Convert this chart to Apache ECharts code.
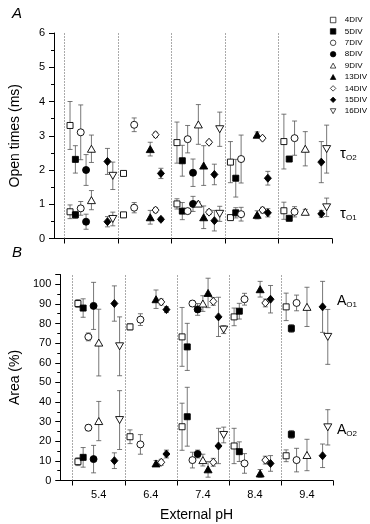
<!DOCTYPE html>
<html>
<head>
<meta charset="utf-8">
<script src="https://cdn.jsdelivr.net/npm/echarts@6/dist/echarts.min.js"></script>
<style>
  html, body { margin: 0; padding: 0; background: #fff; }
  #main { width: 370px; height: 524px; }
</style>
</head>
<body>
<div id="main"></div>
<script>
// series (days in vitro) and pH groups
const divNames = ['4DIV', '5DIV', '7DIV', '8DIV', '9DIV', '13DIV', '14DIV', '15DIV', '16DIV'];
const phLabels = ['5.4', '6.4', '7.4', '8.4', '9.4'];

// rows follow divNames, columns follow phLabels; [mean, sd], null = no data
const tauO2 = [
  [[3.3, 0.7], [1.9, 0.06], [2.8, 0.6], [2.23, 0.6], [2.83, 0.8]],
  [[2.31, 0.4], null, [2.27, 0.45], [1.76, 0.55], [2.32, 0.06]],
  [[3.1, 0.8], [3.32, 0.2], [2.9, 0.4], [2.32, 0.7], [2.93, 0.5]],
  [[2.0, 0.45], null, [1.92, 0.4], null, null],
  [[2.62, 0.4], null, [3.33, 0.58], null, [2.62, 0.5]],
  [null, [2.61, 0.2], [2.13, 0.58], [3.03, 0.08], null],
  [null, [3.03, 0.07], [2.81, 0.05], [2.93, 0.05], null],
  [[2.25, 0.38], [1.9, 0.15], [1.87, 0.3], [1.76, 0.2], [2.23, 0.6]],
  [[1.83, 0.4], null, [3.19, 0.5], null, [2.61, 0.7]]
];
const tauO1 = [
  [[0.78, 0.2], [0.69, 0.03], [1.01, 0.15], [0.61, 0.03], [0.81, 0.25]],
  [[0.69, 0.1], null, [0.8, 0.25], [0.75, 0.15], [0.59, 0.04]],
  [[0.88, 0.2], [0.9, 0.15], [0.8, 0.05], [0.71, 0.2], [0.78, 0.15]],
  [[0.49, 0.22], null, [1.01, 0.22], null, null],
  [[1.12, 0.28], null, [1.02, 0.05], null, [0.78, 0.07]],
  [null, [0.62, 0.2], [0.62, 0.33], [0.69, 0.12], null],
  [null, [0.83, 0.07], [0.77, 0.07], [0.83, 0.08], null],
  [[0.49, 0.15], [0.56, 0.05], [0.52, 0.3], [0.75, 0.12], [0.72, 0.1]],
  [[0.57, 0.2], null, [0.72, 0.22], null, [0.91, 0.27]]
];
const areaO1 = [
  [[90.2, 2], [78.3, 1.5], [73.2, 15], [83.4, 4.5], [88.5, 7]],
  [[87.9, 4.7], null, [68.1, 12], [86.3, 4], [77.5, 2]],
  [[73.2, 2], [82, 3], [90.2, 1.5], [92.4, 3], [90.5, 4]],
  [[89, 12], null, [87.2, 3], null, null],
  [[70.3, 17], null, [90.2, 4], null, [88.5, 10]],
  [null, [92.4, 4.7], [95.6, 7.5], [97.5, 4], null],
  [null, [91, 1.5], [91.3, 2], [90.5, 2], null],
  [[90.2, 9], [87.1, 1.5], [83.4, 10], [92.4, 7], [88.5, 13]],
  [[68.4, 15], null, [76.9, 2], null, [73.2, 14]]
];
const areaO2 = [
  [[9.6, 2], [22.3, 3.5], [27.4, 12], [17.6, 9], [12.6, 3]],
  [[11.8, 5], null, [32.5, 15], [14.7, 5], [23.5, 2]],
  [[26.9, 1.5], [18.4, 5], [10.4, 4], [8.7, 5], [10.4, 6]],
  [[10.9, 7], null, [13.5, 2], null, null],
  [[30.3, 10], null, [10.4, 3], null, [13, 8]],
  [null, [8.7, 1.5], [5.7, 4], [3.6, 2], null],
  [null, [9.3, 1.5], [9.3, 2], [10.4, 2], null],
  [[10.1, 4], [13.5, 2], [17.6, 9], [8.7, 4], [12.6, 6]],
  [[30.8, 15], null, [23.2, 4], null, [27.1, 9]]
];

const font = 'Liberation Sans, Arial, sans-serif';
const triUp = 'path://M5,0 L10,9 L0,9 Z';
const triDown = 'path://M0,0 L10,0 L5,9 Z';
const markers = [
  { symbol: 'rect', size: 6, filled: false },
  { symbol: 'rect', size: 6, filled: true },
  { symbol: 'circle', size: 7, filled: false },
  { symbol: 'circle', size: 7, filled: true },
  { symbol: triUp, size: [8, 7], filled: false },
  { symbol: triUp, size: [8, 7], filled: true },
  { symbol: 'diamond', size: [7, 8], filled: false },
  { symbol: 'diamond', size: [7, 8], filled: true },
  { symbol: triDown, size: [8, 7], filled: false }
];

// x position inside a pH group: group boundary + (series index + 1) / 10
const xPos = (g, i) => 5 + g + (i + 1) * 0.1;

function renderErr(params, api) {
  const x = api.value(0), y = api.value(1), e = api.value(2);
  const top = api.coord([x, y + e]);
  const bot = api.coord([x, y - e]);
  const w = 2.5;
  const st = { stroke: '#555', lineWidth: 0.8 };
  return {
    type: 'group',
    children: [
      { type: 'line', shape: { x1: top[0], y1: top[1], x2: bot[0], y2: bot[1] }, style: st },
      { type: 'line', shape: { x1: top[0] - w, y1: top[1], x2: top[0] + w, y2: top[1] }, style: st },
      { type: 'line', shape: { x1: bot[0] - w, y1: bot[1], x2: bot[0] + w, y2: bot[1] }, style: st }
    ]
  };
}

const series = [];
[[tauO1, tauO2], [areaO1, areaO2]].forEach((metrics, p) => {
  const errData = [];
  divNames.forEach((name, i) => {
    const pts = [];
    metrics.forEach(m => {
      m[i].forEach((c, g) => {
        if (c) {
          pts.push([xPos(g, i), c[0]]);
          errData.push([xPos(g, i), c[0], c[1]]);
        }
      });
    });
    const mk = markers[i];
    series.push({
      name: name,
      type: 'scatter',
      xAxisIndex: p,
      yAxisIndex: p,
      symbol: mk.symbol,
      symbolSize: mk.size,
      z: 3,
      itemStyle: {
        color: mk.filled ? '#000' : '#fff',
        borderColor: '#000',
        borderWidth: 0.9,
        opacity: 1
      },
      data: pts
    });
  });
  series.push({
    type: 'custom',
    xAxisIndex: p,
    yAxisIndex: p,
    z: 2,
    renderItem: renderErr,
    encode: { x: 0, y: 1 },
    data: errData,
    markLine: {
      silent: true,
      symbol: 'none',
      label: { show: false },
      lineStyle: { type: [1, 2], color: '#555', width: 1 },
      data: [5, 6, 7, 8, 9].map(v => ({ xAxis: v }))
    }
  });
});

const axisLine = { lineStyle: { color: '#000', width: 1 } };

const option = {
  animation: false,
  backgroundColor: '#fff',
  textStyle: { fontFamily: font },
  grid: [
    { left: 53, width: 279, top: 33, height: 205.5 },
    { left: 53, width: 280, top: 274.5, height: 206 }
  ],
  xAxis: [
    {
      gridIndex: 0, type: 'value', min: 4.8, max: 10,
      axisLine: axisLine,
      axisTick: { length: 5, customValues: [5, 6, 7, 8, 9, 10], lineStyle: { color: '#000' } },
      axisLabel: { show: false },
      splitLine: { show: false }
    },
    {
      gridIndex: 1, type: 'value', min: 4.76, max: 10,
      axisLine: axisLine,
      axisTick: { length: 5, customValues: [5, 6, 7, 8, 9, 10], lineStyle: { color: '#000' } },
      axisLabel: {
        customValues: [5.5, 6.5, 7.5, 8.5, 9.5],
        formatter: v => phLabels[Math.round(v - 5.5)],
        fontSize: 11, color: '#000', margin: 9, fontFamily: font
      },
      splitLine: { show: false },
      name: 'External pH', nameLocation: 'middle', nameGap: 28,
      nameTextStyle: { fontSize: 14, color: '#000', fontFamily: font }
    }
  ],
  yAxis: [
    {
      gridIndex: 0, type: 'value', min: 0, max: 6, interval: 1,
      axisLine: axisLine,
      axisTick: { length: 5, lineStyle: { color: '#000' } },
      minorTick: { show: true, splitNumber: 2, length: 3, lineStyle: { color: '#000' } },
      axisLabel: { fontSize: 11, color: '#000', margin: 9, fontFamily: font },
      splitLine: { show: false },
      name: 'Open times (ms)', nameLocation: 'middle', nameGap: 32,
      nameTextStyle: { fontSize: 14, color: '#000', fontFamily: font }
    },
    {
      gridIndex: 1, type: 'value', min: 0, max: 105, interval: 10,
      axisLine: axisLine,
      axisTick: { length: 5, lineStyle: { color: '#000' } },
      minorTick: { show: true, splitNumber: 2, length: 3, lineStyle: { color: '#000' } },
      axisLabel: { fontSize: 11, color: '#000', margin: 9, showMaxLabel: false, fontFamily: font },
      splitLine: { show: false },
      name: 'Area (%)', nameLocation: 'middle', nameGap: 32,
      nameTextStyle: { fontSize: 14, color: '#000', fontFamily: font }
    }
  ],
  legend: {
    data: divNames,
    orient: 'vertical',
    left: 325,
    top: 11,
    itemWidth: 5.5,
    itemHeight: 5.5,
    itemGap: 3.4,
    itemStyle: { borderWidth: 0.7 },
    textStyle: { fontSize: 8, color: '#000', fontFamily: font, padding: [0, 0, 0, 4] }
  },
  graphic: [
    { type: 'text', left: 12, top: 6, style: { text: 'A', font: 'italic 15px ' + font, fill: '#000' } },
    { type: 'text', left: 12, top: 245, style: { text: 'B', font: 'italic 15px ' + font, fill: '#000' } },
    {
      type: 'text', left: 340, top: 146,
      style: {
        text: '{m|τ}{s|O2}',
        rich: { m: { fontSize: 15, fontFamily: font, fill: '#000' }, s: { fontSize: 8, fontFamily: font, padding: [8, 0, 0, 0] } }
      }
    },
    {
      type: 'text', left: 340, top: 206,
      style: {
        text: '{m|τ}{s|O1}',
        rich: { m: { fontSize: 15, fontFamily: font }, s: { fontSize: 8, fontFamily: font, padding: [8, 0, 0, 0] } }
      }
    },
    {
      type: 'text', left: 337, top: 294,
      style: {
        text: '{m|A}{s|O1}',
        rich: { m: { fontSize: 14, fontFamily: font }, s: { fontSize: 8, fontFamily: font, padding: [8, 0, 0, 0] } }
      }
    },
    {
      type: 'text', left: 337, top: 423,
      style: {
        text: '{m|A}{s|O2}',
        rich: { m: { fontSize: 14, fontFamily: font }, s: { fontSize: 8, fontFamily: font, padding: [8, 0, 0, 0] } }
      }
    }
  ],
  series: series
};

const chart = echarts.init(document.getElementById('main'));
chart.setOption(option);
</script>
</body>
</html>
